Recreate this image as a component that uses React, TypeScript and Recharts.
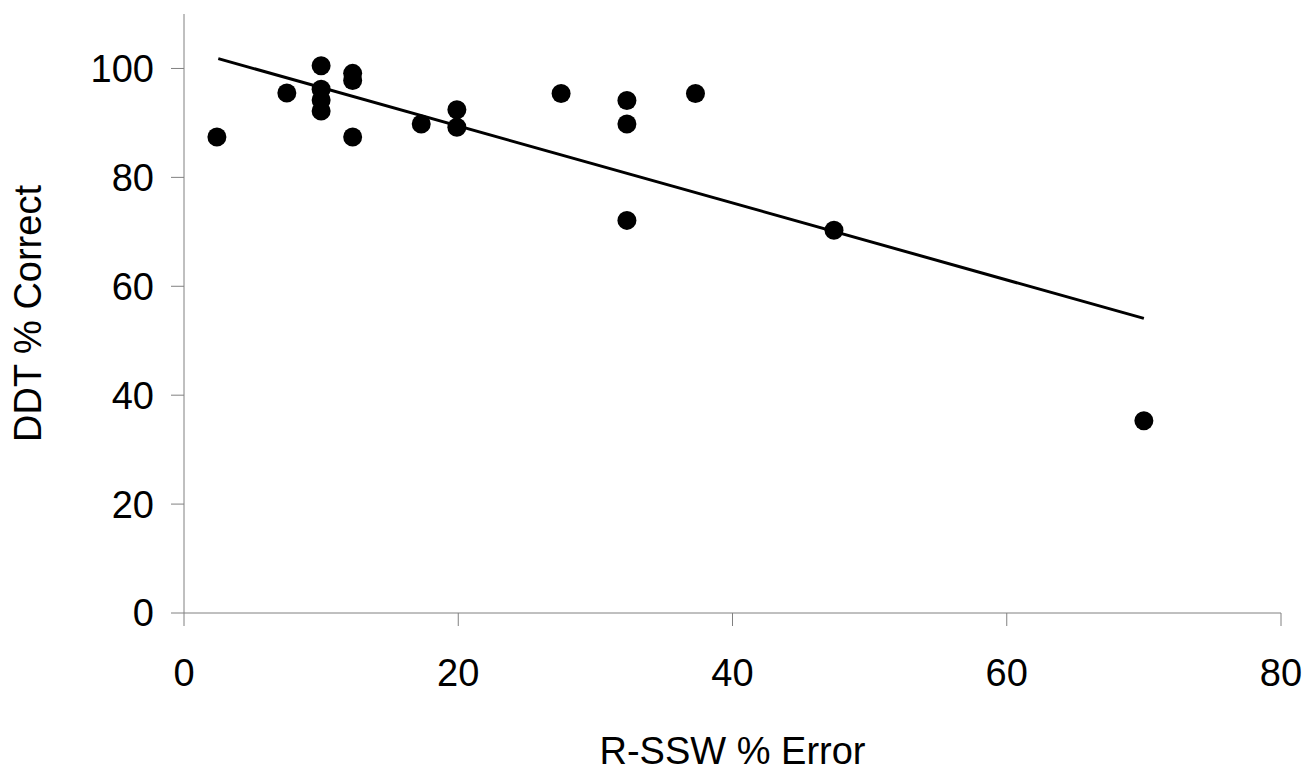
import { ScatterChart, Scatter, XAxis, YAxis, Label } from 'recharts';

// R-SSW % error vs DDT % correct, one entry per listener
const rsswError = [2.4, 7.5, 10, 10, 10, 10, 12.3, 12.3, 12.3, 17.3, 19.9, 19.9, 27.5, 32.3, 32.3, 32.3, 37.3, 47.4, 70];
const ddtCorrect = [87.4, 95.5, 100.5, 96.2, 94.2, 92.2, 99.1, 97.8, 87.4, 89.8, 92.4, 89.2, 95.4, 94.1, 89.8, 72.1, 95.4, 70.3, 35.3];

// fitted line, read at its two ends
const trendX = [2.5, 70];
const trendY = [101.8, 54.1];

const xTicks = [0, 20, 40, 60, 80];
const yTicks = [0, 20, 40, 60, 80, 100];

const points = rsswError.map((x, i) => ({ x, y: ddtCorrect[i] }));
const trend = trendX.map((x, i) => ({ x, y: trendY[i] }));

const FONT = '"Liberation Sans", Arial, sans-serif';
const AXIS = '#808080';
const FS = 38;

const Dot = (props: any) => <circle cx={props.cx} cy={props.cy} r={9.5} fill="#000" />;

export default function App() {
    return (
        <div style={{ position: 'absolute', left: 0, top: 0, background: '#fff' }}>
            <ScatterChart width={1306} height={772} margin={{ top: 14, right: 25, left: 0, bottom: 0 }}>
                <XAxis
                    type="number"
                    dataKey="x"
                    domain={[0, 80]}
                    ticks={xTicks}
                    height={159}
                    stroke={AXIS}
                    tickSize={13}
                    tickMargin={33}
                    tick={{ fill: '#000', fontSize: FS, fontFamily: FONT }}
                    interval={0}
                >
                    <Label
                        value="R-SSW % Error"
                        position="insideBottom"
                        offset={8}
                        style={{ fill: '#000', fontSize: FS, fontFamily: FONT }}
                    />
                </XAxis>
                <YAxis
                    type="number"
                    dataKey="y"
                    domain={[0, 110]}
                    ticks={yTicks}
                    width={184}
                    stroke={AXIS}
                    tickSize={13}
                    tickMargin={17}
                    tick={{ fill: '#000', fontSize: FS, fontFamily: FONT }}
                    interval={0}
                >
                    <Label
                        value="DDT % Correct"
                        angle={-90}
                        position="insideLeft"
                        offset={28}
                        style={{ fill: '#000', fontSize: FS, fontFamily: FONT, textAnchor: 'middle' }}
                    />
                </YAxis>
                <Scatter
                    data={trend}
                    line={{ stroke: '#000', strokeWidth: 3 }}
                    shape={() => <g />}
                    isAnimationActive={false}
                />
                <Scatter data={points} shape={Dot} isAnimationActive={false} />
            </ScatterChart>
        </div>
    );
}
